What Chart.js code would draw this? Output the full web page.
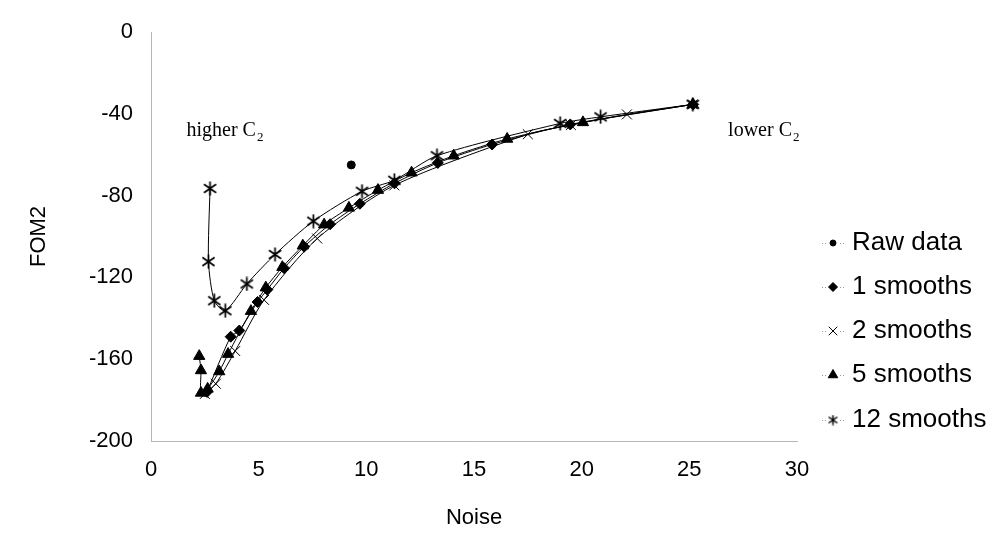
<!DOCTYPE html>
<html>
<head>
<meta charset="utf-8">
<script src="https://cdn.jsdelivr.net/npm/chart.js@4.4.1/dist/chart.umd.min.js"></script>
<style>
  html, body { margin: 0; padding: 0; background: #fff; }
  #wrap { width: 998px; height: 538px; }
</style>
</head>
<body>
<div id="wrap"><canvas id="fomChart" width="998" height="538"></canvas></div>
<script>
// values
var rawX = [9.3];
var rawY = [-65];

var s1X = [2.6, 3.7, 4.1, 4.95, 5.4, 6.18, 7.11, 8.32, 9.7, 11.31, 13.32, 15.84, 19.47, 25.18];
var s1Y = [-176, -149, -146, -132, -126, -115.5, -105, -94, -84, -74, -64, -55, -45.2, -35.4];

var s2X = [2.5, 3.01, 3.91, 5.25, 7.72, 11.3, 17.5, 19.5, 22.1, 25.16];
var s2Y = [-177, -172, -156, -131, -101, -75, -50, -45.5, -40.3, -35.4];

var s5X = [2.24, 2.32, 2.32, 2.63, 3.17, 3.58, 4.64, 5.33, 6.1, 7.05, 8.04, 9.19, 10.54, 12.1, 14.06, 16.54, 20.06, 25.16];
var s5Y = [-158.5, -165.5, -176.5, -174.5, -166, -157.5, -136.5, -125, -115, -104.5, -94.2, -86, -77.3, -68.8, -60.5, -52.3, -44.2, -35.4];

var s12X = [2.74, 2.67, 2.94, 3.45, 4.45, 5.76, 7.54, 9.8, 11.3, 13.28, 19.0, 20.88, 25.16];
var s12Y = [-76.5, -112.3, -131.4, -136.3, -123.2, -108.8, -92.5, -77.9, -72.5, -60.5, -44.7, -41.5, -35.4];

var xTicks = [0, 5, 10, 15, 20, 25, 30];
var yTicks = [0, -40, -80, -120, -160, -200];

var seriesNames = ["Raw data", "1 smooths", "2 smooths", "5 smooths", "12 smooths"];

// note positions, in data units (baseline)
var notes = [
    { text: "higher C", sub: "2", x: 1.65, y: -51 },
    { text: "lower C", sub: "2", x: 26.8, y: -51 }
];

function pts(xs, ys) {
    var out = [];
    for (var i = 0; i < xs.length; i++) {
        out.push({ x: xs[i], y: ys[i] });
    }
    return out;
}

// asterisk marker like the old excel one: vertical stroke plus an X
function asterisk(size, lw) {
    var c = document.createElement("canvas");
    c.width = size;
    c.height = size;
    var g = c.getContext("2d");
    var m = size / 2;
    var r = size / 2 - 0.5;
    g.strokeStyle = "#000";
    g.lineWidth = lw;
    g.beginPath();
    g.moveTo(m, m - r); g.lineTo(m, m + r);
    g.moveTo(m - r * 0.87, m - r * 0.6); g.lineTo(m + r * 0.87, m + r * 0.6);
    g.moveTo(m - r * 0.87, m + r * 0.6); g.lineTo(m + r * 0.87, m - r * 0.6);
    g.stroke();
    return c;
}

var starBig = asterisk(15, 1.7);
var starSmall = asterisk(11, 1.5);

var markers = [
    { pointStyle: "circle", radius: 4 },
    { pointStyle: "rectRot", radius: 5.5 },
    { pointStyle: "crossRot", radius: 7 },
    { pointStyle: "triangle", radius: 6.5 },
    { pointStyle: starBig, radius: 7 }
];

var allX = [rawX, s1X, s2X, s5X, s12X];
var allY = [rawY, s1Y, s2Y, s5Y, s12Y];

var datasets = [];
for (var i = 0; i < seriesNames.length; i++) {
    datasets.push({
        label: seriesNames[i],
        data: pts(allX[i], allY[i]),
        showLine: i > 0,
        borderColor: "#000",
        backgroundColor: "#000",
        borderWidth: 1,
        tension: 0.25,
        pointStyle: markers[i].pointStyle,
        pointRadius: markers[i].radius,
        pointBorderWidth: 1,
        pointBorderColor: "#000",
        pointBackgroundColor: "#000"
    });
}

// legend and C2 notes drawn by hand
var extras = {
    id: "extras",
    afterDraw: function (chart) {
        var ctx = chart.ctx;
        var xs = chart.scales.x;
        var ys = chart.scales.y;

        ctx.save();
        ctx.fillStyle = "#000";
        ctx.textBaseline = "alphabetic";
        for (var n = 0; n < notes.length; n++) {
            var px = xs.getPixelForValue(notes[n].x);
            var py = ys.getPixelForValue(notes[n].y);
            ctx.font = "20px 'Liberation Serif', 'Times New Roman', serif";
            ctx.textAlign = "left";
            ctx.fillText(notes[n].text, px, py);
            var w = ctx.measureText(notes[n].text).width;
            ctx.font = "13px 'Liberation Serif', 'Times New Roman', serif";
            ctx.fillText(notes[n].sub, px + w + 1, py + 5);
        }

        var rowY = [243, 287, 331, 375, 420];
        var markX = 833;
        for (var k = 0; k < seriesNames.length; k++) {
            var y = rowY[k];
            ctx.strokeStyle = "#999";
            ctx.lineWidth = 1;
            ctx.setLineDash([1, 2]);
            ctx.beginPath();
            ctx.moveTo(markX - 11, y + 0.5);
            ctx.lineTo(markX + 12, y + 0.5);
            ctx.stroke();
            ctx.setLineDash([]);
            ctx.fillStyle = "#fff";
            ctx.fillRect(markX - 6, y - 7, 12, 14);
            ctx.fillStyle = "#000";
            ctx.strokeStyle = "#000";
            ctx.lineWidth = 1;
            var ps = k === 4 ? starSmall : markers[k].pointStyle;
            Chart.helpers.drawPoint(ctx, {
                pointStyle: ps,
                radius: markers[k].radius - 1,
                rotation: 0,
                borderWidth: 1
            }, markX, y);
            ctx.fillStyle = "#000";
            ctx.font = "26px 'Liberation Sans', Arial, sans-serif";
            ctx.textAlign = "left";
            ctx.textBaseline = "middle";
            ctx.fillText(seriesNames[k], 852, y);
        }
        ctx.restore();
    }
};

var fomChart = new Chart(document.getElementById("fomChart"), {
    type: "scatter",
    data: { datasets: datasets },
    options: {
        responsive: false,
        animation: false,
        events: [],
        layout: { padding: { left: 0, right: 201, top: 32, bottom: 0 } },
        plugins: {
            legend: { display: false },
            tooltip: { enabled: false }
        },
        scales: {
            x: {
                type: "linear",
                min: 0,
                max: 30,
                afterFit: function (scale) { scale.height = 97; },
                afterBuildTicks: function (scale) {
                    scale.ticks = xTicks.map(function (v) { return { value: v }; });
                },
                grid: { display: false, drawTicks: false, tickLength: 0 },
                border: { display: true, color: "#b5b5b5", width: 1, dash: [1, 3] },
                ticks: {
                    color: "#000",
                    padding: 16,
                    maxRotation: 0,
                    font: { family: "'Liberation Sans', Arial, sans-serif", size: 22 }
                },
                title: {
                    display: true,
                    text: "Noise",
                    color: "#000",
                    padding: { top: 0, bottom: 7 },
                    font: { family: "'Liberation Sans', Arial, sans-serif", size: 22 }
                }
            },
            y: {
                type: "linear",
                min: -200,
                max: 0,
                afterFit: function (scale) { scale.width = 151; },
                afterBuildTicks: function (scale) {
                    scale.ticks = yTicks.map(function (v) { return { value: v }; });
                },
                grid: { display: false, drawTicks: false, tickLength: 0 },
                border: { display: true, color: "#b5b5b5", width: 1, dash: [1, 3] },
                ticks: {
                    color: "#000",
                    padding: 18,
                    font: { family: "'Liberation Sans', Arial, sans-serif", size: 22 }
                },
                title: {
                    display: true,
                    text: "FOM2",
                    color: "#000",
                    padding: { top: 26, bottom: 0 },
                    font: { family: "'Liberation Sans', Arial, sans-serif", size: 22 }
                }
            }
        }
    },
    plugins: [extras]
});
</script>
</body>
</html>
